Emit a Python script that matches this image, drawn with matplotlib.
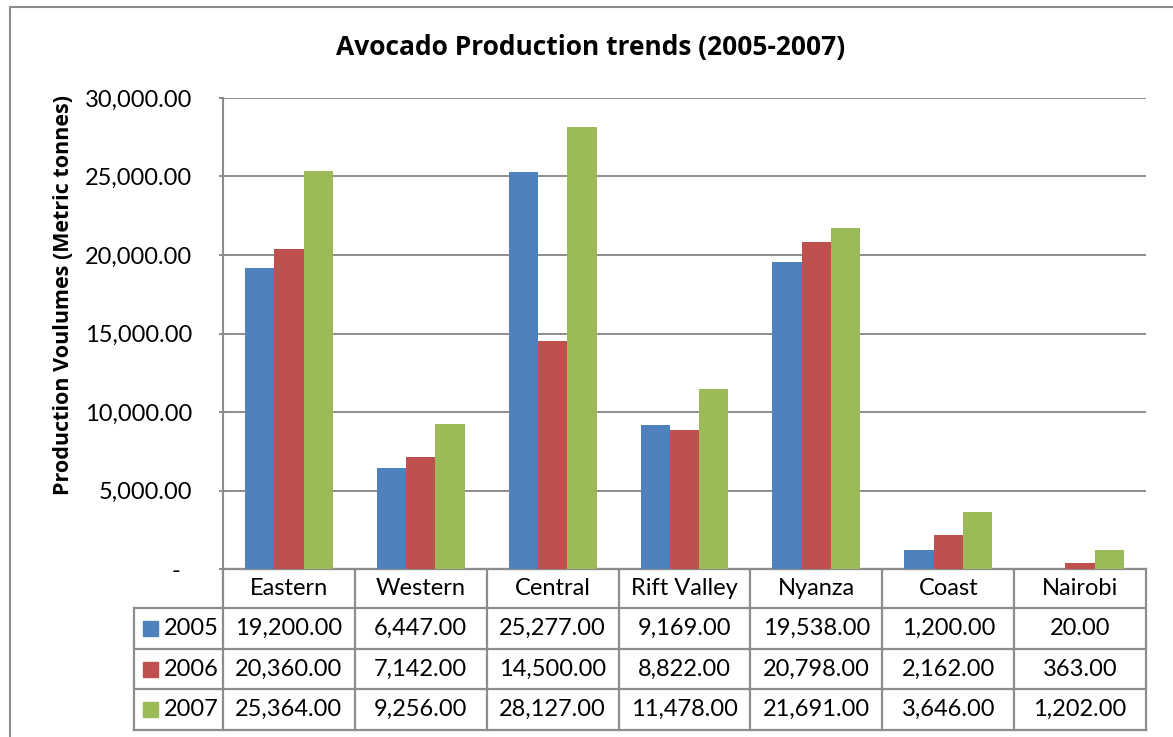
import matplotlib
matplotlib.use("Agg")
import matplotlib.pyplot as plt
from matplotlib.transforms import blended_transform_factory
from matplotlib.patches import Rectangle

# Avocado production by province, metric tonnes
regions = ["Eastern", "Western", "Central", "Rift Valley", "Nyanza", "Coast", "Nairobi"]
years = ["2005", "2006", "2007"]
prod_2005 = [19200, 6447, 25277, 9169, 19538, 1200, 20]
prod_2006 = [20360, 7142, 14500, 8822, 20798, 2162, 363]
prod_2007 = [25364, 9256, 28127, 11478, 21691, 3646, 1202]
series = [prod_2005, prod_2006, prod_2007]
colors = ["#4F81BD", "#C0504D", "#9BBB59"]
yticks = [0, 5000, 10000, 15000, 20000, 25000, 30000]

plt.rcParams["font.family"] = ["Lato", "DejaVu Sans"]
BOLD = ["Open Sans", "DejaVu Sans"]
LINE = "#8C8C8C"
FS = 17

W, H = 1173, 737
fig = plt.figure(figsize=(W / 100, H / 100), dpi=100)

def fx(px):
    return px / W

def fy(py):
    return 1 - py / H

# outer chart frame
fig.patches.append(Rectangle((fx(10), fy(900)), 2, fy(7) - fy(900),
                             transform=fig.transFigure, fill=False,
                             edgecolor=LINE, lw=1.5))

left, right, top, base = 223, 1146, 98, 569
ax = fig.add_axes([fx(left), fy(base), fx(right) - fx(left), fy(top) - fy(base)])
ax.set_xlim(0, len(regions))
ax.set_ylim(0, 30000)

n = len(series)
bw = 1 / (n + 1.5)
for k, (vals, c) in enumerate(zip(series, colors)):
    xs = [i + 0.5 + (k - (n - 1) / 2) * bw for i in range(len(regions))]
    ax.bar(xs, vals, width=bw, color=c, edgecolor="none", zorder=3)

ax.set_yticks(yticks)
ax.set_yticklabels([f"{v:,.2f}" if v else "-  " for v in yticks], fontsize=FS)
ax.set_xticks([])
ax.yaxis.grid(True, color=LINE, lw=1.4, zorder=0)
ax.tick_params(axis="y", length=3, width=1.4, color=LINE, pad=19)
for s in ["top", "right"]:
    ax.spines[s].set_visible(False)
for s in ["left", "bottom"]:
    ax.spines[s].set_color(LINE)
    ax.spines[s].set_linewidth(1.5)

ax.set_ylabel("Production Voulumes (Metric tonnes)", family=BOLD, fontweight="bold",
              fontsize=15.5)
ax.yaxis.set_label_coords((74 - left) / (right - left), (base - 295) / (base - top))
fig.text(fx(591), fy(47), "Avocado Production trends (2005-2007)",
         family=BOLD, fontweight="bold", fontsize=19, ha="center", va="center")

# data table beneath the axis
tr = blended_transform_factory(ax.transData, fig.transFigure)
rows = [569, 608, 649, 689, 730]
tbl_left = 134
kw = dict(color=LINE, lw=1.6, clip_on=False, solid_capstyle="projecting")

# horizontal lines
ax.plot([0, len(regions)], [fy(rows[0])] * 2, transform=tr, **kw)
for r in rows[1:]:
    fig.add_artist(plt.Line2D([fx(tbl_left), fx(right)], [fy(r)] * 2,
                              transform=fig.transFigure, **kw))
# vertical lines
for i in range(len(regions) + 1):
    ax.plot([i, i], [fy(rows[0]), fy(rows[-1])], transform=tr, **kw)
fig.add_artist(plt.Line2D([fx(tbl_left)] * 2, [fy(rows[1]), fy(rows[-1])],
                          transform=fig.transFigure, **kw))

# header row with region names
for i, name in enumerate(regions):
    ax.text(i + 0.5, fy((rows[0] + rows[1]) / 2), name, transform=tr,
            ha="center", va="center", fontsize=FS)

# series rows
for k, (vals, c, yr) in enumerate(zip(series, colors, years)):
    yc = fy((rows[k + 1] + rows[k + 2]) / 2)
    fig.patches.append(Rectangle((fx(143), yc - 7.5 / H), 15 / W, 15 / H,
                                 transform=fig.transFigure, color=c))
    fig.text(fx(164), yc, yr, ha="left", va="center", fontsize=FS)
    for i, v in enumerate(vals):
        ax.text(i + 0.5, yc, f"{v:,.2f}", transform=tr, ha="center",
                va="center", fontsize=FS)

fig.savefig("out.png", dpi=100)
